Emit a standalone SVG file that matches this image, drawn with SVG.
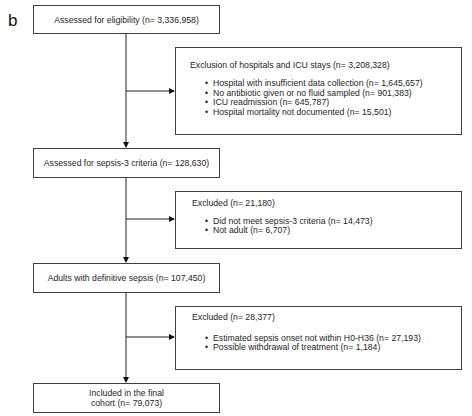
<svg xmlns="http://www.w3.org/2000/svg" width="472" height="416" viewBox="0 0 472 416">
<style>
.box{fill:#fff;stroke:#404040;stroke-width:1}
.t{font-family:"Liberation Sans",Arial,sans-serif;font-size:8.7px;fill:#262626}
.c{text-anchor:middle}
.ln{stroke:#222;stroke-width:1;fill:none}
</style>
<defs>
<marker id="ah" markerWidth="6" markerHeight="6" refX="5" refY="3" orient="auto" markerUnits="userSpaceOnUse">
<path d="M0,0 L6,3 L0,6 Z" fill="#111"/>
</marker>
</defs>
<rect width="472" height="416" fill="#fff"/>
<text x="8" y="26" font-family="Liberation Sans,Arial,sans-serif" font-size="17" fill="#111">b</text>
<g id="connectors">
<path class="ln" d="M126,33 V147" marker-end="url(#ah)"/>
<path class="ln" d="M126,91 H174" marker-end="url(#ah)"/>
<path class="ln" d="M126,177 V262" marker-end="url(#ah)"/>
<path class="ln" d="M126,219 H174" marker-end="url(#ah)"/>
<path class="ln" d="M126,292 V382" marker-end="url(#ah)"/>
<path class="ln" d="M126,337 H174" marker-end="url(#ah)"/>
</g>
<g id="n1">
<rect class="box" x="33.5" y="5.5" width="186" height="28"/>
<text class="t c" x="126.5" y="22.5">Assessed for eligibility (n= 3,336,958)</text>
</g>
<g id="n2">
<rect class="box" x="175.5" y="47.5" width="286" height="87"/>
<text class="t" x="190" y="68">Exclusion of hospitals and ICU stays (n= 3,208,328)</text>
<text class="t" x="205" y="86">•<tspan x="213">Hospital with insufficient data collection (n= 1,645,657)</tspan></text>
<text class="t" x="205" y="95.5">•<tspan x="213">No antibiotic given or no fluid sampled (n= 901,383)</tspan></text>
<text class="t" x="205" y="105">•<tspan x="213">ICU readmission (n= 645,787)</tspan></text>
<text class="t" x="205" y="114.5">•<tspan x="213">Hospital mortality not documented (n= 15,501)</tspan></text>
</g>
<g id="n3">
<rect class="box" x="33.5" y="148.5" width="186" height="29"/>
<text class="t c" x="126.5" y="166">Assessed for sepsis-3 criteria (n= 128,630)</text>
</g>
<g id="n4">
<rect class="box" x="175.5" y="191.5" width="286" height="57"/>
<text class="t" x="192" y="206">Excluded (n= 21,180)</text>
<text class="t" x="205" y="224">•<tspan x="213">Did not meet sepsis-3 criteria (n= 14,473)</tspan></text>
<text class="t" x="205" y="233">•<tspan x="213">Not adult (n= 6,707)</tspan></text>
</g>
<g id="n5">
<rect class="box" x="33.5" y="263.5" width="186" height="29"/>
<text class="t c" x="126.5" y="281">Adults with definitive sepsis (n= 107,450)</text>
</g>
<g id="n6">
<rect class="box" x="175.5" y="306.5" width="286" height="63"/>
<text class="t" x="192" y="320">Excluded (n= 28,377)</text>
<text class="t" x="205" y="341">•<tspan x="213">Estimated sepsis onset not within H0-H36 (n= 27,193)</tspan></text>
<text class="t" x="205" y="350">•<tspan x="213">Possible withdrawal of treatment (n= 1,184)</tspan></text>
</g>
<g id="n7">
<rect class="box" x="33.5" y="383.5" width="186" height="29"/>
<text class="t c" x="126.5" y="396">Included in the final</text>
<text class="t c" x="126.5" y="406">cohort (n= 79,073)</text>
</g>
</svg>
